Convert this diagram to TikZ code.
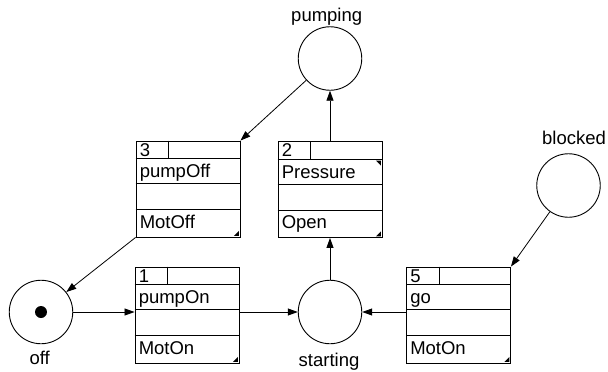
\documentclass[tikz,border=0pt]{standalone}
\usepackage{fontspec}
\setmainfont{Liberation Sans}
\usetikzlibrary{arrows.meta}
\tikzset{
  txt/.style={inner sep=0pt, font=\fontsize{18.5pt}{22pt}\selectfont},
  tb/.style={draw, rectangle, minimum width=104pt, minimum height=96pt, inner sep=0pt, line width=0.9pt},
  place/.style={draw, circle, minimum size=63.5pt, inner sep=0pt, line width=0.9pt},
  arr/.style={line width=0.8pt, -{Triangle[length=10pt,width=7pt]}},
  rowline/.style={line width=0.8pt},
}
\newcommand\tbox[6]{%
  \node[tb] (#1) at (#2,#3) {};
  \draw[rowline] ([yshift=-18pt]#1.north west) -- ([yshift=-18pt]#1.north east);
  \draw[rowline] ([yshift=-43pt]#1.north west) -- ([yshift=-43pt]#1.north east);
  \draw[rowline] ([yshift=-69pt]#1.north west) -- ([yshift=-69pt]#1.north east);
  \draw[rowline] ([xshift=33pt]#1.north west) -- ([xshift=33pt,yshift=-18pt]#1.north west);
  \node[txt, anchor=base west] (#1num) at ([xshift=4pt,yshift=-15.5pt]#1.north west) {#4};
  \node[txt, anchor=base west] (#1in) at ([xshift=4pt,yshift=-37pt]#1.north west) {#5};
  \node[txt, anchor=base west] (#1out) at ([xshift=4pt,yshift=-87.5pt]#1.north west) {#6};
  \fill ([xshift=-1.5pt,yshift=1.5pt]#1.south east) -- ++(-5pt,0pt) -- ++(5pt,5pt) -- cycle;
}
\begin{document}
\begin{tikzpicture}[x=1pt,y=-1pt]
\useasboundingbox (0,0) rectangle (608,372);
% places
\node[place] (pumping) at (330,58.5) {};
\node[place] (off) at (41,312) {};
\node[place] (starting) at (330,312) {};
\node[place] (blocked) at (568.5,185.5) {};
\fill (off) circle (6pt);
\node[txt, anchor=base] (pumpinglbl) at (326.7,21.7) {pumping};
\node[txt, anchor=base] (offlbl) at (39.7,364.3) {off};
\node[txt, anchor=base] (startinglbl) at (329,366) {starting};
\node[txt, anchor=base] (blockedlbl) at (574,144.3) {blocked};
% transitions
\tbox{b3}{188}{189}{3}{pumpOff}{MotOff}
\tbox{b2}{330}{189.5}{2}{Pressure}{Open}
\fill ([xshift=-1.5pt,yshift=-19.5pt]b2.north east) -- ++(-5pt,0pt) -- ++(5pt,-5pt) -- cycle;
\tbox{b1}{187}{315}{1}{pumpOn}{MotOn}
\tbox{b5}{458.5}{315}{5}{go}{MotOn}
% arcs
\draw[arr] (pumping) -- (b3.north east);
\draw[arr] (b2.north) -- (pumping);
\draw[arr] (starting) -- (b2.south);
\draw[arr] (b3.south west) -- (off);
\draw[arr] (off) -- (off -| b1.west);
\draw[arr] (b1.east |- starting) -- (starting);
\draw[arr] (b5.west |- starting) -- (starting);
\draw[arr] (blocked) -- (b5.north east);
\end{tikzpicture}
\end{document}
